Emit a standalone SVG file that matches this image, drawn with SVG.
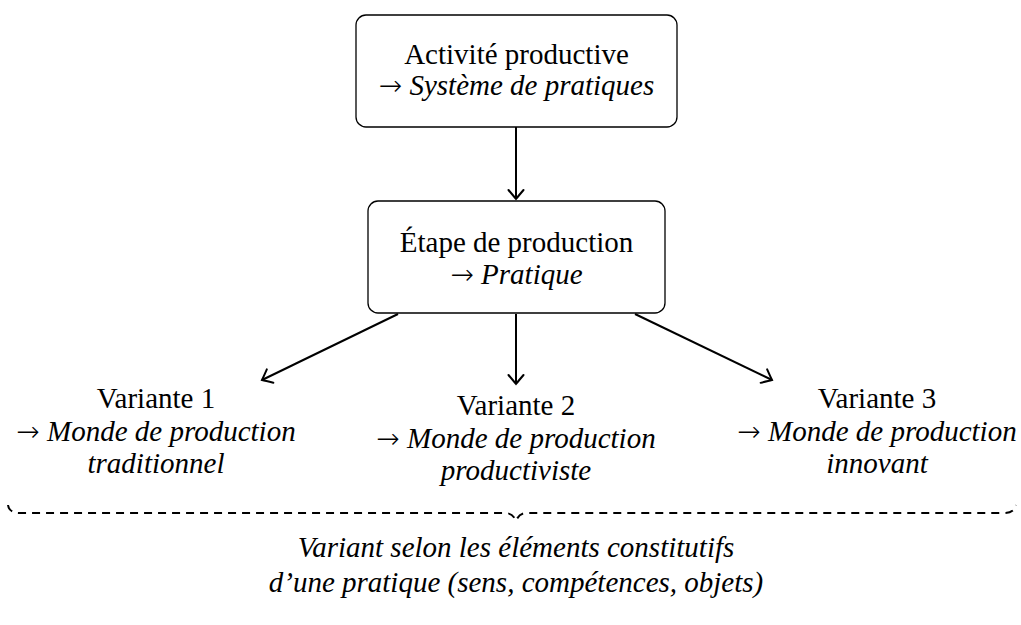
<svg xmlns="http://www.w3.org/2000/svg" width="1021" height="625" viewBox="0 0 1021 625">
<style>
text{font-family:"Liberation Serif","DejaVu Serif",serif;font-size:29px;fill:#000;text-anchor:middle}
.it{font-style:italic}
.ar{font-family:"DejaVu Sans",sans-serif;font-style:normal;font-weight:200;font-size:28px}
.box{fill:#fff;stroke:#000;stroke-width:1.3}
.con{stroke:#000;stroke-width:2;fill:none;marker-end:url(#ah)}
.brace{stroke:#000;stroke-width:2;fill:none;stroke-dasharray:8 6}
</style>
<defs>
<marker id="ah" markerUnits="userSpaceOnUse" markerWidth="24" markerHeight="24" viewBox="-12 -12 24 24" refX="0" refY="0" orient="auto">
<path d="M-9,-7.5 Q-2.5,-2 0,0 Q-2.5,2 -9,7.5" fill="none" stroke="#000" stroke-width="2" stroke-linecap="round"/>
</marker>
</defs>
<g id="connectors">
<line class="con" x1="516" y1="127" x2="516" y2="199"/>
<line class="con" x1="398" y1="314" x2="262" y2="380"/>
<line class="con" x1="516" y1="314" x2="516" y2="384"/>
<line class="con" x1="635" y1="314" x2="772" y2="380"/>
</g>
<g id="activite">
<rect class="box" x="356" y="15" width="321" height="112" rx="10"/>
<text x="516.5" y="64">Activité productive</text>
<text x="516.5" y="95"><tspan class="ar">→</tspan> <tspan class="it">Système de pratiques</tspan></text>
</g>
<g id="etape">
<rect class="box" x="368" y="201" width="297" height="112" rx="10"/>
<text x="516.5" y="252">Étape de production</text>
<text x="516.5" y="284"><tspan class="ar">→</tspan> <tspan class="it">Pratique</tspan></text>
</g>
<g id="variante1">
<text x="156" y="408">Variante 1</text>
<text x="156" y="441"><tspan class="ar">→</tspan> <tspan class="it">Monde de production</tspan></text>
<text x="156" y="473" class="it">traditionnel</text>
</g>
<g id="variante2">
<text x="516" y="415">Variante 2</text>
<text x="516" y="448"><tspan class="ar">→</tspan> <tspan class="it">Monde de production</tspan></text>
<text x="516" y="480" class="it">productiviste</text>
</g>
<g id="variante3">
<text x="877" y="408">Variante 3</text>
<text x="877" y="441"><tspan class="ar">→</tspan> <tspan class="it">Monde de production</tspan></text>
<text x="877" y="473" class="it">innovant</text>
</g>
<g id="brace">
<path class="brace" d="M8,505 Q9,513 20,513 L505,513 Q513,513 516,521 Q519,513 527,513 L1004,513 Q1014,513 1016,505"/>
<text x="516" y="557" class="it">Variant selon les éléments constitutifs</text>
<text x="516" y="592" class="it">d’une pratique (sens, compétences, objets)</text>
</g>
</svg>
